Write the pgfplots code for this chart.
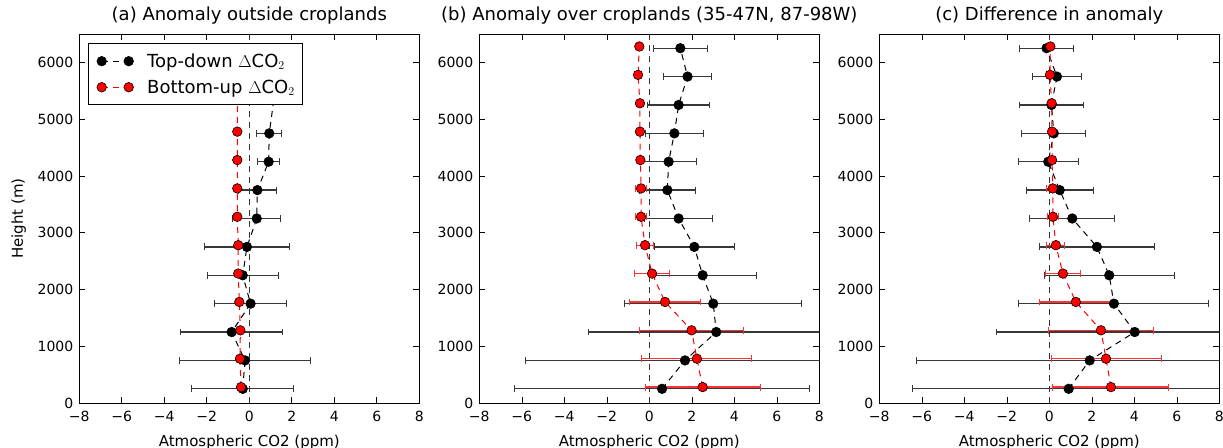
\documentclass[border=0pt]{standalone}
\usepackage{pgfplots}
\pgfplotsset{compat=1.18}
\usepackage{pgfplotstable}
\usepackage{fontspec}
\setmainfont{DejaVu Sans}

% panel (a)
\pgfplotstableread{
y x ex
250 -0.31 2.41
750 -0.20 3.09
1250 -0.83 2.41
1750 0.06 1.70
2250 -0.31 1.68
2750 -0.11 1.99
3250 0.35 1.13
3750 0.38 0.89
4250 0.91 0.53
4750 0.94 0.59
5750 1.30 0.50
6250 1.30 0.50
}\aTD
\pgfplotstableread{
y x ex
280 -0.39 0.12
780 -0.44 0.12
1280 -0.42 0.12
1780 -0.47 0.12
2280 -0.52 0.12
2780 -0.52 0.12
3280 -0.565 0.12
3780 -0.565 0.12
4280 -0.565 0.12
4780 -0.565 0.12
5750 -0.565 0.12
6250 -0.565 0.12
}\aBU
% panel (b)
\pgfplotstableread{
y x ex
250 0.60 6.95
750 1.68 7.50
1250 3.15 6.02
1750 3.01 4.17
2250 2.51 2.52
2750 2.12 1.88
3250 1.38 1.60
3750 0.85 1.31
4250 0.91 1.33
4750 1.18 1.38
5250 1.38 1.45
5750 1.80 1.13
6250 1.46 1.27
}\bTD
\pgfplotstableread{
y x ex
280 2.51 2.70
780 2.24 2.59
1280 1.99 2.46
1780 0.74 1.67
2280 0.13 0.81
2780 -0.20 0.39
3280 -0.39 0.24
3780 -0.39 0.28
4280 -0.42 0.15
4780 -0.44 0.15
5280 -0.44 0.15
5780 -0.53 0.15
6280 -0.47 0.15
}\bBU
% panel (c)
\pgfplotstableread{
y x ex
250 0.91 7.34
750 1.90 8.14
1250 4.02 6.51
1750 3.04 4.47
2250 2.82 3.06
2750 2.24 2.71
3250 1.08 2.00
3750 0.49 1.58
4250 -0.05 1.41
4750 0.21 1.51
5250 0.10 1.51
5750 0.36 1.15
6250 -0.13 1.28
}\cTD
\pgfplotstableread{
y x ex
280 2.90 2.73
780 2.67 2.59
1280 2.43 2.46
1780 1.25 1.71
2280 0.64 0.82
2780 0.31 0.42
3280 0.17 0.27
3780 0.16 0.31
4280 0.13 0.15
4780 0.13 0.15
5280 0.11 0.15
5780 0.03 0.15
6280 0.05 0.15
}\cBU

\pgfplotsset{
  panel/.style={
    scale only axis, width=340pt, height=369pt,
    anchor=south west,
    xmin=-8, xmax=8, ymin=0, ymax=6500,
    xtick={-8,-6,...,8},
    xticklabels={−8,−6,−4,−2,0,2,4,6,8},
    ytick={0,1000,...,6000},
    yticklabels={0,1000,2000,3000,4000,5000,6000},
    tick align=inside,
    major tick length=6pt,
    every tick/.style={black, line width=0.6pt},
    axis line style={line width=0.8pt},
    tick label style={font=\fontsize{14}{16}\selectfont},
    xticklabel style={anchor=base, yshift=-19pt},
    yticklabel style={xshift=-2.5pt},
    xlabel={Atmospheric CO2 (ppm)},
    xlabel style={font=\fontsize{15}{17}\selectfont, at={(axis description cs:0.5,0)}, anchor=base, yshift=-43pt, inner sep=0pt},
    title style={font=\fontsize{18}{21}\selectfont, at={(axis description cs:0.5,1)}, anchor=base, yshift=7pt, inner sep=0pt},
  },
  td/.style={black, line width=1pt, dash pattern=on 6pt off 5pt,
    mark=*, mark size=4.8pt, mark options={solid, fill=black, draw=black, line width=0.6pt},
    error bars/.cd, x dir=both, x explicit, error mark=|,
    error bar style={solid, line width=1.3pt, color=black!78},
    error mark options={solid, mark size=3.4pt, line width=1pt, color=black!78}},
  bu/.style={red, line width=1pt, dash pattern=on 6pt off 5pt,
    mark=*, mark size=4.8pt, mark options={solid, fill=red, draw=black, line width=0.6pt},
    error bars/.cd, x dir=both, x explicit, error mark=|,
    error bar style={solid, line width=1.3pt, color=red!80},
    error mark options={solid, mark size=3.4pt, line width=1pt, color=red!80}},
  zero/.style={black!80, line width=1pt, dash pattern=on 6pt off 5pt, forget plot},
}

\begin{document}
\begin{tikzpicture}
\begin{axis}[panel, at={(79.3pt,44pt)},
  title={(a) Anomaly outside croplands},
  ylabel={Height (m)},
  ylabel style={font=\fontsize{15}{17}\selectfont, at={(axis description cs:0,0.5)}, anchor=south, yshift=53pt, inner sep=0pt},
  legend cell align=left,
  legend style={at={(0.0265,0.975)}, anchor=north west, draw=black, line width=0.8pt,
    font=\fontsize{18}{21}\selectfont, row sep=11pt, inner xsep=7.5pt, inner ysep=10pt,
    nodes={inner sep=0pt}},
  legend image code/.code={\draw[mark repeat=1,#1] plot coordinates {(0pt,0pt) (27pt,0pt)};
    \path (-5pt,-5pt) (45pt,5pt);},
]
\addplot[zero] coordinates {(0,0) (0,6500)};
\addplot[td] table[x=x, y=y, x error=ex] {\aTD};
\addplot[bu] table[x=x, y=y, x error=ex] {\aBU};
\legend{Top-down $\Delta$CO$_2$, Bottom-up $\Delta$CO$_2$}
\end{axis}
\begin{axis}[panel, at={(479.3pt,44pt)},
  title={(b) Anomaly over croplands (35-47N, 87-98W)}]
\addplot[zero] coordinates {(0,0) (0,6500)};
\addplot[td] table[x=x, y=y, x error=ex] {\bTD};
\addplot[bu] table[x=x, y=y, x error=ex] {\bBU};
\end{axis}
\begin{axis}[panel, at={(879.3pt,44pt)},
  title={(c) Difference in anomaly}]
\addplot[zero] coordinates {(0,0) (0,6500)};
\addplot[td] table[x=x, y=y, x error=ex] {\cTD};
\addplot[bu] table[x=x, y=y, x error=ex] {\cBU};
\end{axis}
\pgfresetboundingbox
\useasboundingbox (0pt,0pt) rectangle (1223pt,447pt);
\end{tikzpicture}
\end{document}
